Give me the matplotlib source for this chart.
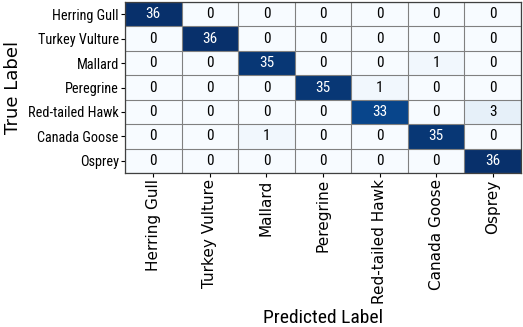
import numpy as np
import matplotlib
matplotlib.use("Agg")
import matplotlib.pyplot as plt

classes = ["Herring Gull", "Turkey Vulture", "Mallard", "Peregrine",
           "Red-tailed Hawk", "Canada Goose", "Osprey"]
cm = np.array([
    [36, 0, 0, 0, 0, 0, 0],
    [0, 36, 0, 0, 0, 0, 0],
    [0, 0, 35, 0, 0, 1, 0],
    [0, 0, 0, 35, 1, 0, 0],
    [0, 0, 0, 0, 33, 0, 3],
    [0, 0, 1, 0, 0, 35, 0],
    [0, 0, 0, 0, 0, 0, 36],
])

cond = dict(family=["Roboto Condensed", "DejaVu Sans"])

W, H = 523, 327
fig = plt.figure(figsize=(W / 100, H / 100), dpi=100)
ax_l, ax_r, ax_t, ax_b = 125, 521, 2, 173
ax = fig.add_axes([ax_l / W, 1 - ax_b / H, (ax_r - ax_l) / W, (ax_b - ax_t) / H])
ax.imshow(cm, cmap="Blues", vmin=0, vmax=36, aspect="auto")
n = len(classes)
for i in range(n):
    for j in range(n):
        v = cm[i, j]
        ax.text(j, i, str(v), ha="center", va="center", fontsize=11,
                color="white" if v > 18 else "black", **cond)
ax.set_xticks(np.arange(n))
ax.set_yticks(np.arange(n))
ax.set_xticks(np.arange(-0.5, n, 1), minor=True)
ax.set_yticks(np.arange(-0.5, n, 1), minor=True)
ax.grid(which="minor", color="#808080", linewidth=0.8)
ax.tick_params(which="minor", length=0)
ax.tick_params(which="major", length=3, pad=1.5)
ax.set_xticklabels(classes, rotation=90, fontsize=11)
ax.set_yticklabels(classes, fontsize=10.3, **cond)
for s in ax.spines.values():
    s.set_color("#404040")
    s.set_linewidth(0.9)
ax.set_xlabel("Predicted Label", fontsize=14, va="baseline", **cond)
ax.xaxis.set_label_coords(0.5, (H - 323 - (H - ax_b)) / (ax_b - ax_t))
ax.set_ylabel("True Label", fontsize=13, va="center")
ax.yaxis.set_label_coords((13 - ax_l) / (ax_r - ax_l), 0.5)
fig.savefig("out.png", dpi=100)
